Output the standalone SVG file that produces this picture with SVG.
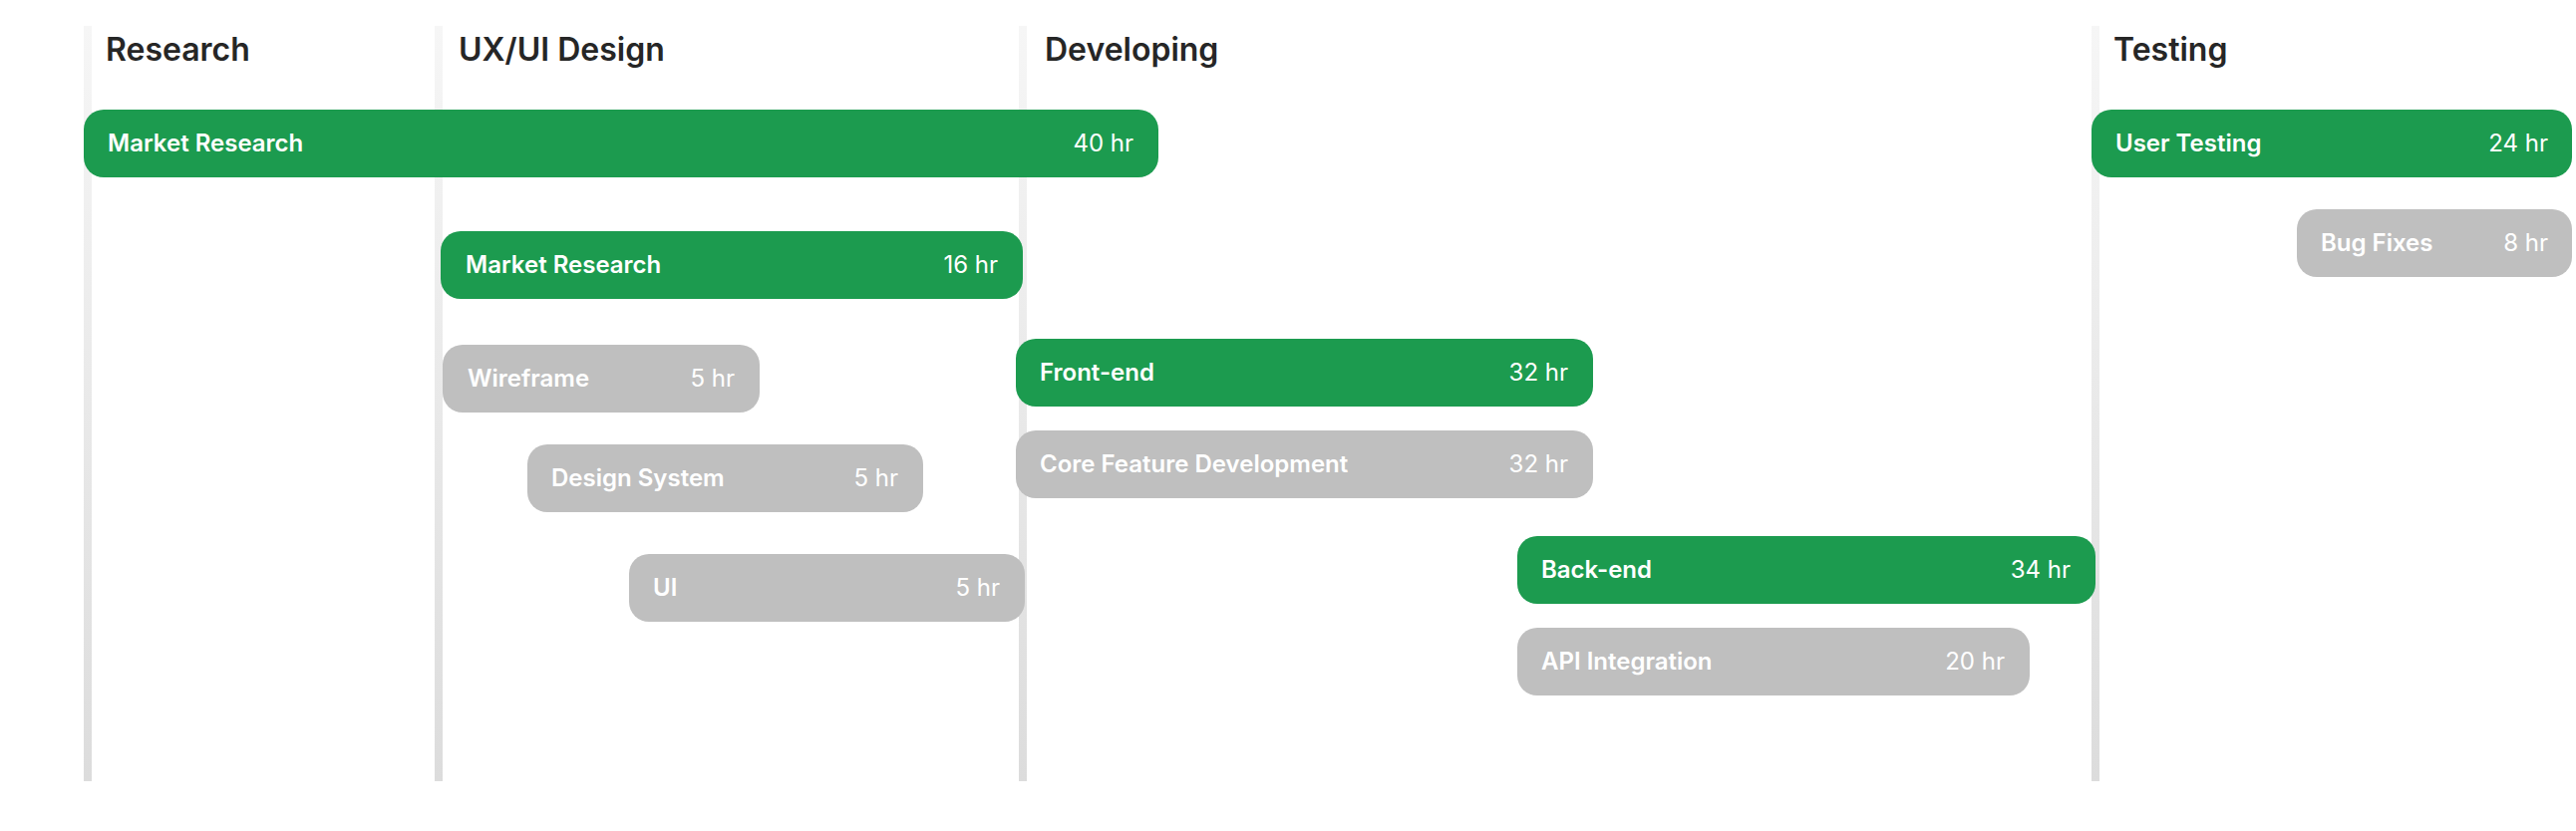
<svg xmlns="http://www.w3.org/2000/svg" width="2584" height="834" viewBox="0 0 2584 834">
<defs>
<linearGradient id="lineGrad" x1="0" y1="0" x2="0" y2="1">
<stop offset="0" stop-color="#f6f6f6"/>
<stop offset="1" stop-color="#dcdcdc"/>
</linearGradient>
<style>
.hdr{font-family:Inter,"Liberation Sans",sans-serif;font-size:32px;font-weight:600;fill:#262626}
.bar-g{fill:#1c9b4f}
.bar-x{fill:#bfbfbf}
.lbl{font-family:Inter,"Liberation Sans",sans-serif;font-size:24px;font-weight:600;fill:#ffffff}
.hrs{font-family:Inter,"Liberation Sans",sans-serif;font-size:24px;font-weight:400;fill:#ffffff;text-anchor:end}
.guide{fill:url(#lineGrad)}
</style>
</defs>
<rect width="2584" height="834" fill="#ffffff"/>
<g id="phases">
<g id="phase-research"><rect class="guide" x="84" y="26" width="8" height="758"/><text class="hdr" x="106" y="61">Research</text></g>
<g id="phase-uxui"><rect class="guide" x="436" y="26" width="8" height="758"/><text class="hdr" x="460" y="61">UX/UI Design</text></g>
<g id="phase-developing"><rect class="guide" x="1022" y="26" width="8" height="758"/><text class="hdr" x="1048" y="61">Developing</text></g>
<g id="phase-testing"><rect class="guide" x="2098" y="26" width="8" height="758"/><text class="hdr" x="2120" y="61">Testing</text></g>
</g>
<g id="connectors"></g>
<g id="task-market-research-1"><rect class="bar-g" x="84" y="110" width="1078" height="68" rx="20"/><text class="lbl" x="108" y="152">Market Research</text><text class="hrs" x="1137" y="152">40 hr</text></g>
<g id="task-market-research-2"><rect class="bar-g" x="442" y="232" width="584" height="68" rx="20"/><text class="lbl" x="467" y="274">Market Research</text><text class="hrs" x="1001" y="274">16 hr</text></g>
<g id="task-wireframe"><rect class="bar-x" x="444" y="346" width="318" height="68" rx="20"/><text class="lbl" x="469" y="388">Wireframe</text><text class="hrs" x="737" y="388">5 hr</text></g>
<g id="task-design-system"><rect class="bar-x" x="529" y="446" width="397" height="68" rx="20"/><text class="lbl" x="553" y="488">Design System</text><text class="hrs" x="901" y="488">5 hr</text></g>
<g id="task-ui"><rect class="bar-x" x="631" y="556" width="397" height="68" rx="20"/><text class="lbl" x="655" y="598">UI</text><text class="hrs" x="1003" y="598">5 hr</text></g>
<g id="task-front-end"><rect class="bar-g" x="1019" y="340" width="579" height="68" rx="20"/><text class="lbl" x="1043" y="382">Front-end</text><text class="hrs" x="1573" y="382">32 hr</text></g>
<g id="task-core-feature"><rect class="bar-x" x="1019" y="432" width="579" height="68" rx="20"/><text class="lbl" x="1043" y="474">Core Feature Development</text><text class="hrs" x="1573" y="474">32 hr</text></g>
<g id="task-back-end"><rect class="bar-g" x="1522" y="538" width="580" height="68" rx="20"/><text class="lbl" x="1546" y="580">Back-end</text><text class="hrs" x="2077" y="580">34 hr</text></g>
<g id="task-api-integration"><rect class="bar-x" x="1522" y="630" width="514" height="68" rx="20"/><text class="lbl" x="1546" y="672">API Integration</text><text class="hrs" x="2011" y="672">20 hr</text></g>
<g id="task-user-testing"><rect class="bar-g" x="2098" y="110" width="482" height="68" rx="20"/><text class="lbl" x="2122" y="152">User Testing</text><text class="hrs" x="2556" y="152">24 hr</text></g>
<g id="task-bug-fixes"><rect class="bar-x" x="2304" y="210" width="276" height="68" rx="20"/><text class="lbl" x="2328" y="252">Bug Fixes</text><text class="hrs" x="2556" y="252">8 hr</text></g>
</svg>
